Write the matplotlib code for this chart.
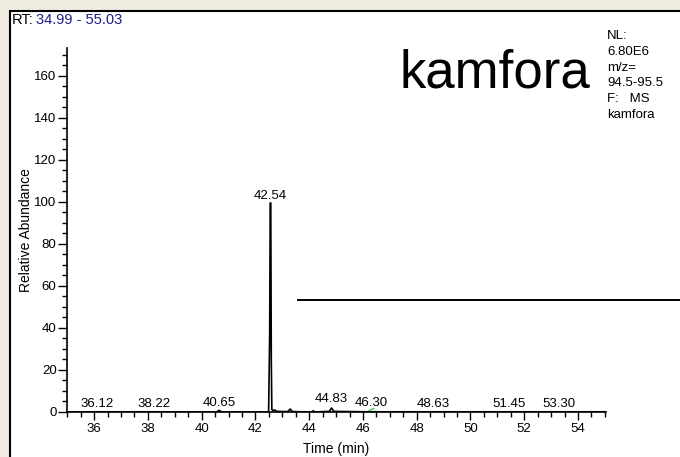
import matplotlib
matplotlib.use("Agg")
import matplotlib.pyplot as plt
from matplotlib.patches import Rectangle
from matplotlib.ticker import MultipleLocator

plt.rcParams['font.family'] = ['Liberation Sans', 'DejaVu Sans']

# chromatogram trace (time in min, relative abundance)
rt = [34.99, 36.12, 38.22, 40.55, 40.65, 40.75, 42.49, 42.53, 42.55, 42.57,
      42.59, 42.61, 42.65, 42.72, 42.80, 43.20, 43.29, 43.38, 44.10, 44.15,
      44.20, 44.75, 44.83, 44.92, 46.10, 48.63, 51.45, 53.30, 55.03]
abund = [0.0, 0.1, 0.1, 0.0, 0.8, 0.0, 0.0, 37.5, 99.5, 99.5,
         24.8, 1.2, 0.8, 0.9, 0.3, 0.2, 1.4, 0.2, 0.0, 0.6,
         0.0, 0.3, 1.9, 0.3, 0.1, 0.1, 0.1, 0.1, 0.1]

# small green trace under 46.30
green_rt = [46.20, 46.30, 46.40]
green_abund = [0.4, 1.1, 1.6]

# peak labels
label_rt = [36.12, 38.22, 40.65, 42.54, 44.83, 46.30, 48.63, 51.45, 53.30]
label_abund = [0.4, 0.4, 0.8, 99.5, 2.5, 0.8, 0.4, 0.4, 0.4]

hline_level = 53.3
hline_start = 43.6

fig = plt.figure(figsize=(6.8, 4.57), dpi=100, facecolor='#f1ece2')

# white panel with black left/top border
panel = Rectangle((10 / 680, -0.05), 1.1, (457 - 10) / 457 + 0.05 - 0.002,
                  transform=fig.transFigure, facecolor='white',
                  edgecolor='black', linewidth=1.5, zorder=-10)
fig.patches.append(panel)

ax = fig.add_axes([67 / 680, 45 / 457, 538.7 / 680, 364 / 457])
ax.set_facecolor('none')

ax.plot(rt, abund, color='black', linewidth=1.2)
ax.plot(green_rt, green_abund, color='#3cc43c', linewidth=1.0)
ax.plot([hline_start, 60], [hline_level, hline_level], color='black',
        linewidth=1.4, clip_on=False)

for t, a in zip(label_rt, label_abund):
    ax.annotate(f"{t:.2f}", (t, a), xytext=(0, 1), textcoords='offset points',
                ha='center', va='bottom', fontsize=9.5)

ax.set_xlim(34.99, 55.03)
ax.set_ylim(0, 173.3)
ax.xaxis.set_major_locator(MultipleLocator(2))
ax.xaxis.set_minor_locator(MultipleLocator(0.5))
ax.yaxis.set_major_locator(MultipleLocator(20))
ax.yaxis.set_minor_locator(MultipleLocator(5))
ax.tick_params(axis='x', which='major', length=6, width=1, pad=2, labelsize=9.5)
ax.tick_params(axis='x', which='minor', length=3.5, width=1)
ax.tick_params(axis='y', which='major', length=6.5, width=1, pad=1, labelsize=9.5)
ax.tick_params(axis='y', which='minor', length=3.5, width=1)
for s in ['top', 'right']:
    ax.spines[s].set_visible(False)
for s in ['left', 'bottom']:
    ax.spines[s].set_linewidth(1.2)

ax.set_xlabel("Time (min)", fontsize=10, labelpad=5)
ax.set_ylabel("Relative Abundance", fontsize=10, labelpad=1)

fig.text(12 / 680, 1 - 20 / 457, "RT:", fontsize=10.5, va='center', ha='left')
fig.text(36 / 680, 1 - 20 / 457, "34.99 - 55.03", fontsize=10.5, va='center',
         ha='left', color='#1c1c8c')

fig.text(590 / 680, 1 - 88 / 457, "kamfora", fontsize=38, ha='right',
         va='baseline')
fig.text(607 / 680, 1 - 30 / 457, "NL:\n6.80E6\nm/z=\n94.5-95.5\nF:   MS\nkamfora",
         fontsize=9.5, ha='left', va='top', linespacing=1.42)

fig.savefig("out.png", dpi=100, facecolor=fig.get_facecolor())
